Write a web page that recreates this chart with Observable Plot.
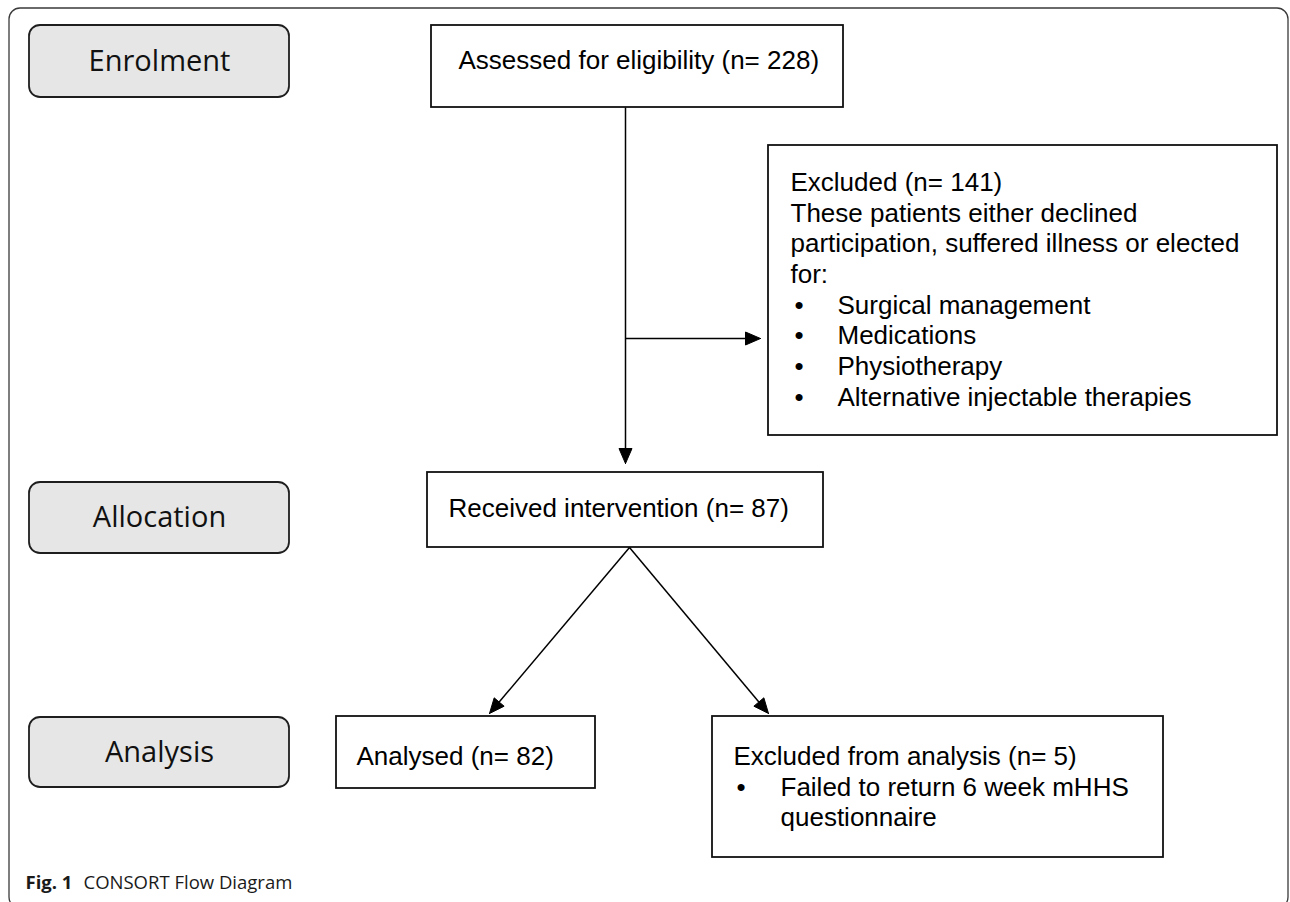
<!DOCTYPE html>
<html>
<head>
<meta charset="utf-8">
<script src="https://cdn.jsdelivr.net/npm/d3@7"></script>
<script src="https://cdn.jsdelivr.net/npm/@observablehq/plot@0.6"></script>
<style>
  html, body { margin: 0; padding: 0; background: #ffffff; }
  #chart svg { display: block; }
</style>
</head>
<body>
<div id="chart"></div>
<script>
// ---------- data ----------
const stages = ["Enrolment", "Allocation", "Analysis"];
const steps = ["Assessed for eligibility", "Received intervention", "Analysed"];
const stepCounts = [228, 87, 82];
const exclusions = ["Excluded", "Excluded from analysis"];
const exclusionCounts = [141, 5];
const excludedNote = ["These patients either declined", "participation, suffered illness or elected", "for:"];
const excludedReasons = ["Surgical management", "Medications", "Physiotherapy", "Alternative injectable therapies"];
const analysisExclusionReasons = ["Failed to return 6 week mHHS", "questionnaire"];
const captionLabel = "Fig. 1";
const captionText = "CONSORT Flow Diagram";

// ---------- layout ----------
const W = 1290, H = 902;
const FONT_BOX = "'Liberation Sans', Arial, sans-serif";
const FONT_STAGE = "'Open Sans', sans-serif";
const BOX_FS = 26, LINE = 30.7;

const stageLayout = [
  {x1: 29, x2: 289, y1: 25, y2: 97},
  {x1: 29, x2: 289, y1: 482, y2: 553},
  {x1: 29, x2: 289, y1: 717, y2: 787}
];
const stepLayout = [
  {x1: 431, x2: 843, y1: 25, y2: 107, tx: 458, ty: 60},
  {x1: 427, x2: 823, y1: 472, y2: 547, tx: 448, ty: 508},
  {x1: 336, x2: 595, y1: 716, y2: 788, tx: 356, ty: 756}
];
const exclLayout = [
  {x1: 768, x2: 1277, y1: 145, y2: 435, tx: 790, ty: 182, bx: 794, ix: 837},
  {x1: 712, x2: 1163, y1: 716, y2: 857, tx: 733, ty: 756, bx: 736, ix: 780}
];
const arrowLayout = [
  {x1: 625, y1: 107, x2: 625, y2: 463},
  {x1: 625, y1: 338, x2: 760, y2: 338},
  {x1: 629, y1: 547, x2: 489, y2: 713},
  {x1: 629, y1: 547, x2: 768, y2: 713}
];
const HEAD_L = 15, HEAD_W = 13;

// ---------- derived tables ----------
const stageBoxes = stages.map((s, i) => ({label: s, ...stageLayout[i]}));
const stepBoxes = steps.map((s, i) => ({label: `${s} (n= ${stepCounts[i]})`, ...stepLayout[i]}));
const exclBoxes = exclusions.map((s, i) => ({...exclLayout[i]}));

const textRows = [];
const bulletRows = [];
// Excluded (n= 141)
{
  const L = exclLayout[0];
  const lines = [`${exclusions[0]} (n= ${exclusionCounts[0]})`, ...excludedNote];
  lines.forEach((t, i) => textRows.push({x: L.tx, y: L.ty + i * LINE, t}));
  excludedReasons.forEach((t, j) => {
    const y = L.ty + (lines.length + j) * LINE;
    bulletRows.push({x: L.bx, y});
    textRows.push({x: L.ix, y, t});
  });
}
// Excluded from analysis (n= 5)
{
  const L = exclLayout[1];
  textRows.push({x: L.tx, y: L.ty, t: `${exclusions[1]} (n= ${exclusionCounts[1]})`});
  analysisExclusionReasons.forEach((t, j) => {
    const y = L.ty + (1 + j) * LINE;
    if (j === 0) bulletRows.push({x: L.bx, y});
    textRows.push({x: L.ix, y, t});
  });
}
stepBoxes.forEach(b => textRows.push({x: b.tx, y: b.ty, t: b.label}));

// arrows: shafts + filled heads
const shafts = [];
const heads = [];
arrowLayout.forEach((a, k) => {
  const dx = a.x2 - a.x1, dy = a.y2 - a.y1;
  const len = Math.hypot(dx, dy);
  const ux = dx / len, uy = dy / len;
  const bx = a.x2 - ux * HEAD_L, by = a.y2 - uy * HEAD_L;
  const nx = -uy, ny = ux;
  shafts.push({x1: a.x1, y1: a.y1, x2: bx, y2: by});
  heads.push({id: k, x: a.x2, y: a.y2});
  heads.push({id: k, x: bx + nx * HEAD_W / 2, y: by + ny * HEAD_W / 2});
  heads.push({id: k, x: bx - nx * HEAD_W / 2, y: by - ny * HEAD_W / 2});
  heads.push({id: k, x: a.x2, y: a.y2});
});

const frame = [{x1: 9, x2: 1288, y1: 8, y2: 908}];

const chart = Plot.plot({
  width: W,
  height: H,
  margin: 0,
  x: {domain: [0, W], range: [0, W], axis: null},
  y: {domain: [0, H], range: [0, H], axis: null},
  style: {background: "#ffffff", overflow: "hidden"},
  marks: [
    Plot.rect(frame, {x1: "x1", x2: "x2", y1: "y1", y2: "y2", fill: "none", stroke: "#3a3a3a", strokeWidth: 1.3, rx: 11}),
    Plot.rect(stageBoxes, {x1: "x1", x2: "x2", y1: "y1", y2: "y2", fill: "#e6e6e6", stroke: "#1e1e1e", strokeWidth: 1.8, rx: 11}),
    Plot.text(stageBoxes, {x: d => (d.x1 + d.x2) / 2, y: d => (d.y1 + d.y2) / 2, text: "label", fontFamily: FONT_STAGE, fontSize: 29, fill: "#111", textAnchor: "middle", lineAnchor: "middle"}),
    Plot.rect(stepBoxes, {x1: "x1", x2: "x2", y1: "y1", y2: "y2", fill: "#ffffff", stroke: "#111", strokeWidth: 1.8}),
    Plot.rect(exclBoxes, {x1: "x1", x2: "x2", y1: "y1", y2: "y2", fill: "#ffffff", stroke: "#111", strokeWidth: 1.8}),
    Plot.link(shafts, {x1: "x1", y1: "y1", x2: "x2", y2: "y2", stroke: "#000", strokeWidth: 1.5}),
    Plot.line(heads, {x: "x", y: "y", z: "id", fill: "#000", stroke: "#000", strokeWidth: 1, curve: "linear"}),
    Plot.text(textRows, {x: "x", y: "y", text: "t", fontFamily: FONT_BOX, fontSize: BOX_FS, fill: "#000", textAnchor: "start", lineAnchor: "middle"}),
    Plot.text(bulletRows, {x: "x", y: "y", text: () => "\u2022", fontFamily: FONT_BOX, fontSize: BOX_FS, fill: "#000", textAnchor: "start", lineAnchor: "middle"}),
    Plot.text([captionLabel], {x: () => 25, y: () => 883, text: d => d, fontFamily: FONT_STAGE, fontSize: 18.5, fontWeight: "bold", fill: "#1a1a1a", textAnchor: "start", lineAnchor: "middle"}),
    Plot.text([captionText], {x: () => 83, y: () => 883, text: d => d, fontFamily: FONT_STAGE, fontSize: 18.5, fill: "#1a1a1a", textAnchor: "start", lineAnchor: "middle"})
  ]
});
document.getElementById("chart").appendChild(chart);
</script>
</body>
</html>
